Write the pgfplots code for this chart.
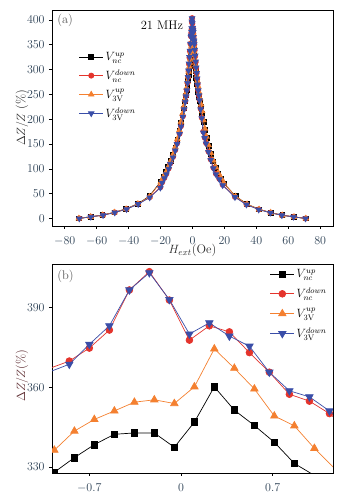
\documentclass[border=0pt]{standalone}
\usepackage{pgfplots}
\usepackage{pgfplotstable}
\pgfplotsset{compat=1.18}
\usetikzlibrary{plotmarks}
\definecolor{cred}{RGB}{228,52,44}
\definecolor{corange}{RGB}{244,128,48}
\definecolor{cblue}{RGB}{58,78,168}
\definecolor{ctick}{RGB}{45,65,85}
\definecolor{clab}{RGB}{40,40,40}

\pgfplotstableread{
x y
-71.2 0.4
-63.8 3.6
-56.4 7
-49 12.5
-41.6 19.5
-34.2 30
-27 45
-19.8 75
-18.2 85
-16.7 94
-15.2 104
-13.7 116
-12.2 129
-10.8 143
-9.5 158
-8.2 176
-7.2 192
-6.3 208
-5.5 222
-4.8 236
-4.2 248
-3.7 258
-3.2 270
-2.8 280
-2.4 290
-2.0 300
-1.7 307
-1.4 315
-1.120 322
-0.967 328
-0.814 333.5
-0.662 338.4
-0.509 342.3
-0.356 342.8
-0.204 342.8
-0.051 337.4
0.102 346.9
0.254 360.2
0.407 351.4
0.560 345.6
0.712 339.3
0.865 331.3
1.018 326.8
1.170 322
1.5 310
1.9 297
2.3 284
2.7 272
3.1 263
3.6 254
4.2 245
4.8 236
5.4 226
6.1 212
6.9 194
7.8 178
8.8 162
10.1 146
11.5 130
13.0 115
14.6 102
16.2 91
17.9 81
19.6 71
27 45
34.2 29
41.7 18.7
49 12
56.3 6.7
63.6 3.4
71 0.3
}\ncup

\pgfplotstableread{
x y
-70.9 0.3
-63.7 3.6
-56 7
-48.7 12.4
-41.3 19.2
-34 29.5
-26.8 43
-20.1 63
-19 73
-17.6 82
-16.4 90
-14.9 101
-13.9 111
-12.2 124
-10.8 138
-9.7 151
-8.1 171
-7.2 186
-6 206
-5.2 221
-4.5 236
-4.0 247
-3.5 259
-3.1 273
-2.8 285
-2.5 297
-2.2 311
-1.9 324
-1.6 337
-1.3 352
-1.005 367.1
-0.853 369.9
-0.700 374.8
-0.547 381.6
-0.394 396.7
-0.242 403.6
-0.089 392.9
0.064 377.8
0.216 383.2
0.369 380.9
0.522 373.1
0.674 365.7
0.827 357.4
0.980 354.8
1.133 350.1
1.4 339
1.7 327
2.0 315
2.3 303
2.6 292
2.9 281
3.2 270
3.6 258
4.0 248
4.4 239
5.1 221
5.8 203
6.8 175
7.6 163
8.5 152
10 135
11.4 119
13.1 102
14.7 90
16.8 80
18.9 68
26.6 43.5
33.8 28.5
41.5 18.5
48.8 11.8
56 6.8
63.3 3.5
70.8 0.2
}\ncdown

\pgfplotstableread{
x y
-71.2 0.3
-63.8 3.5
-56.4 6.8
-49 12.3
-41.6 19
-34.2 29.5
-27 44
-19.8 74
-18.2 84
-16.7 93
-15.2 104
-13.7 116
-12.2 129
-10.8 144
-9.5 160
-8.2 178
-7.2 195
-6.3 211
-5.5 226
-4.8 240
-4.2 252
-3.7 263
-3.2 276
-2.8 286
-2.4 296
-2.0 306
-1.7 314
-1.4 322
-1.120 330
-0.967 336.3
-0.814 343.5
-0.662 347.9
-0.509 351.1
-0.356 354.4
-0.204 355.3
-0.051 353.9
0.102 360.2
0.254 374.5
0.407 367.2
0.560 359.4
0.712 349.2
0.865 345.5
1.018 337
1.170 329.5
1.5 320
1.9 309
2.3 298
2.7 287
3.1 277
3.6 266
4.2 254
4.8 242
5.4 230
6.1 216
6.9 198
7.8 181
8.8 165
10.1 148
11.5 132
13.0 117
14.6 104
16.2 92
17.9 82
19.6 72
27 44.5
34.2 29
41.7 18.5
49 12
56.3 6.5
63.6 3.3
71 0.2
}\vup

\pgfplotstableread{
x y
-70.9 0
-63.7 3.4
-56 6.7
-48.7 12
-41.3 18.8
-34 29
-26.8 42.4
-20.1 62
-19 72
-17.6 81
-16.4 89
-14.9 100
-13.9 110
-12.2 123
-10.8 137
-9.7 150
-8.1 170
-7.2 185
-6 205
-5.2 220
-4.5 235
-4.0 246
-3.5 258
-3.1 273
-2.8 285
-2.5 298
-2.2 312
-1.9 325
-1.6 338
-1.3 352
-1.005 365.8
-0.853 368.7
-0.700 376.2
-0.547 383.2
-0.394 396.7
-0.242 403.2
-0.089 393.1
0.064 380.1
0.216 384.3
0.369 379.3
0.522 375.5
0.674 365.7
0.827 358.7
0.980 356.4
1.133 351.1
1.4 340
1.7 328
2.0 316
2.3 304
2.6 293
2.9 282
3.2 270
3.6 258
4.0 248
4.4 238
5.1 220
5.8 202
6.8 173
7.6 162
8.5 151
10 134
11.4 118
13.1 101
14.7 89
16.8 79
18.9 67
26.6 43
33.8 28
41.5 18
48.8 11.5
56 6.5
63.3 3.3
70.8 0
}\vdown

\begin{document}
\fontsize{12.5}{15}\selectfont
\begin{tikzpicture}
\useasboundingbox (0,0) rectangle (355pt,496pt);
\pgfplotsset{
  common/.style={
    scale only axis, width=281pt,
    anchor=south west,
    axis line style={line width=0.8pt},
    tick align=outside, xtick pos=bottom, ytick pos=left,
    major tick length=3pt,
    tick style={line width=0.6pt, black},
    tick label style={font=\fontsize{12.5}{15}\selectfont, text=ctick},
    xticklabel shift=3pt,
    label style={font=\fontsize{12.5}{15}\selectfont, text=clab},
    clip marker paths=true,
    legend cell align=left,
    legend image code/.code={\draw[mark repeat=2,mark phase=2] plot coordinates {(0pt,0pt) (12pt,0pt) (24pt,0pt)};},
  },
  s1/.style={black, line width=0.7pt, mark=square*, mark size=#1},
  s2/.style={cred, line width=0.7pt, mark=*, mark size=#1},
  s3/.style={corange, line width=0.7pt, mark=triangle*, mark size=#1},
  s4/.style={cblue, line width=0.7pt, mark=triangle*, mark size=#1, mark options={rotate=180}},
}
% Panel (a)
\begin{axis}[common, at={(52pt,270pt)}, height=216pt,
  xmin=-88, xmax=88, ymin=-15, ymax=420,
  xtick={-80,-60,...,80}, ytick={0,50,...,400},
  xlabel={$H_{ext}$(Oe)},
  xlabel style={at={(axis description cs:0.5,-0.128)}, anchor=base},
  ylabel={$\Delta Z/Z$ (\%)},
  ylabel style={at={(axis description cs:-0.107,0.5)}, anchor=center},
  legend style={draw=none, fill=none, at={(0.095,0.815)}, anchor=north west,
    font=\fontsize{12}{14}\selectfont, row sep=3.5pt, inner sep=0pt},
]
\addplot[s1=2.4pt] table[x=x,y=y] {\ncup};
\addplot[s2=2.6pt] table[x=x,y=y] {\ncdown};
\addplot[s3=3.2pt] table[x=x,y=y] {\vup};
\addplot[s4=3.2pt] table[x=x,y=y] {\vdown};
\legend{$V_{nc}^{up}$,$V_{nc}^{down}$,$V_{3\mathrm{V}}^{up}$,$V_{3\mathrm{V}}^{down}$}
\node[anchor=west, text=black!65, inner sep=0pt] at (axis description cs:0.018,0.954) {(a)};
\node[anchor=center, inner sep=0pt] at (axis description cs:0.391,0.93) {21 MHz};
\end{axis}
% Panel (b)
\begin{axis}[common, at={(52pt,23pt)}, height=209pt,
  xmin=-0.985, xmax=1.16, ymin=327.7, ymax=406.5,
  restrict x to domain=-1.5:1.6,
  xtick={-0.7,0,0.7}, ytick={330,360,390},
  ylabel={$\Delta Z/Z$(\%)},
  ylabel style={at={(axis description cs:-0.107,0.467)}, anchor=center, text={rgb,255:red,90;green,40;blue,45}},
  legend style={draw=none, fill=none, at={(0.985,0.985)}, anchor=north east,
    font=\fontsize{12}{14}\selectfont, row sep=4.5pt, inner sep=0pt},
]
\addplot[s1=3.3pt] table[x=x,y=y] {\ncup};
\addplot[s2=3.4pt] table[x=x,y=y] {\ncdown};
\addplot[s3=4.3pt] table[x=x,y=y] {\vup};
\addplot[s4=4.3pt] table[x=x,y=y] {\vdown};
\legend{$V_{nc}^{up}$,$V_{nc}^{down}$,$V_{3\mathrm{V}}^{up}$,$V_{3\mathrm{V}}^{down}$}
\node[anchor=west, text=black!65, inner sep=0pt] at (axis description cs:0.018,0.941) {(b)};
\end{axis}
\end{tikzpicture}
\end{document}
